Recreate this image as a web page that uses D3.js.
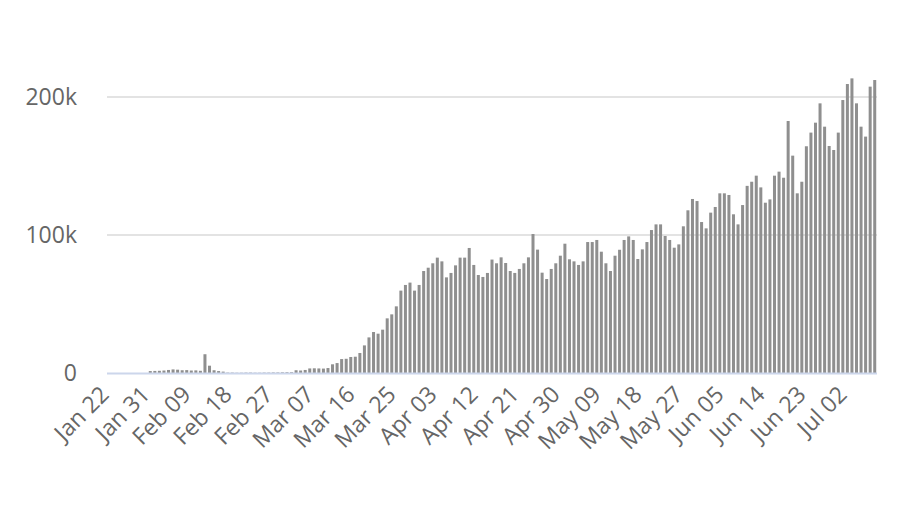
<!DOCTYPE html>
<html>
<head>
<meta charset="utf-8">
<script src="https://cdnjs.cloudflare.com/ajax/libs/d3/7.8.5/d3.min.js"></script>
<style>
  html, body { margin: 0; padding: 0; background: #ffffff; }
  svg { display: block; }
  text { font-family: "Open Sans", "DejaVu Sans", sans-serif; fill: #666666; }
</style>
</head>
<body>
<svg id="chart" width="900" height="505"></svg>
<script>
// Daily new cases (thousands), one array per month, Jan 22 -> Jul 08
const janValues = [0, 0, 0, 0, 0, 0, 0, 0, 0, 1.4];
const febValues = [1.5, 1.6, 1.8, 2.2, 2.6, 2.4, 2.0, 2.1, 1.8, 1.9, 1.6, 13.6, 5.3, 2.0, 1.4, 1.0,
                   0.3, 0.3, 0.2, 0.2, 0.3, 0.3, 0.2, 0.2, 0.3, 0.3, 0.4, 0.4, 0.5];
const marValues = [0.6, 0.6, 2.0, 1.8, 2.2, 3.3, 3.4, 3.3, 3.2, 3.6, 6.3, 7.2, 10.1, 10.3, 11.6, 11.8,
                   14.5, 20.0, 25.8, 29.7, 28.5, 31.4, 39.6, 42.5, 48.3, 59.7, 63.8, 65.5, 59.7, 63.8, 73.9];
const aprValues = [76.3, 79.5, 83.6, 80.9, 69.3, 72.5, 78.0, 83.6, 83.6, 90.6, 78.3, 71.0, 69.6, 72.5, 82.2,
                   79.5, 83.8, 79.7, 73.9, 72.5, 75.4, 79.5, 83.8, 100.7, 89.4, 72.7, 68.1, 75.4, 79.5, 85.0];
const mayValues = [93.7, 82.4, 80.9, 78.3, 80.9, 94.9, 94.9, 96.4, 87.9, 79.5, 73.9, 85.0, 89.3, 96.4, 99.0,
                   96.4, 82.6, 89.6, 94.9, 103.6, 107.7, 107.7, 99.3, 96.4, 90.8, 93.2, 106.3, 117.9, 126.1, 124.6, 109.4];
const junValues = [104.8, 116.2, 120.3, 130.2, 130.2, 129.0, 115.0, 107.7, 121.7, 135.6, 138.6, 143.0, 134.5, 123.4, 125.8,
                   143.0, 145.9, 141.5, 182.6, 157.5, 130.2, 138.6, 164.3, 174.2, 181.4, 195.4, 178.5, 164.5, 161.6, 174.2];
const julValues = [197.8, 209.4, 213.5, 195.4, 178.5, 171.3, 207.5, 212.3];

const tickLabels = ["Jan 22", "Jan 31", "Feb 09", "Feb 18", "Feb 27", "Mar 07", "Mar 16", "Mar 25", "Apr 03",
                    "Apr 12", "Apr 21", "Apr 30", "May 09", "May 18", "May 27", "Jun 05", "Jun 14", "Jun 23", "Jul 02"];
const yTicks = [0, 100, 200];

(function () {
  const values = [].concat(janValues, febValues, marValues, aprValues, mayValues, junValues, julValues);
  const fmt = d3.timeFormat("%b %d");
  const categories = d3.timeDay.range(new Date(2020, 0, 22), new Date(2020, 0, 22 + values.length)).map(fmt);
  const data = categories.map((c, i) => ({ cat: c, value: values[i] }));

  const svg = d3.select("#chart");
  const plotLeft = 107, plotRight = 877, plotTop = 28, plotBottom = 373;

  const x = d3.scaleBand().domain(categories).range([plotLeft, plotRight]).paddingInner(0.34).paddingOuter(0.17);
  const y = d3.scaleLinear().domain([0, 250]).range([plotBottom, plotTop]);

  // gridlines
  svg.append("g").selectAll("line").data(yTicks.filter(d => d > 0)).join("line")
    .attr("x1", plotLeft).attr("x2", plotRight)
    .attr("y1", d => y(d)).attr("y2", d => y(d))
    .attr("stroke", "#e3e3e3").attr("stroke-width", 2);

  // y labels
  svg.append("g").selectAll("text").data(yTicks).join("text")
    .attr("x", 77).attr("y", d => y(d)).attr("dy", "0.36em")
    .attr("text-anchor", "end").attr("font-size", 23)
    .text(d => d === 0 ? "0" : d + "k");

  // bars
  svg.append("g").selectAll("rect").data(data).join("rect")
    .attr("x", d => x(d.cat)).attr("width", x.bandwidth())
    .attr("y", d => y(d.value)).attr("height", d => y(0) - y(d.value))
    .attr("fill", "#8f8f8f");

  // x axis line
  svg.append("line").attr("x1", plotLeft).attr("x2", plotRight)
    .attr("y1", plotBottom + 0.5).attr("y2", plotBottom + 0.5)
    .attr("stroke", "#ccd6eb").attr("stroke-width", 2);

  // x labels
  svg.append("g").selectAll("text").data(tickLabels).join("text")
    .attr("transform", d => `translate(${x(d) + x.bandwidth() / 2 + 1},${plotBottom + 23}) rotate(-45)`)
    .attr("text-anchor", "end").attr("font-size", 23)
    .text(d => d);
})();
</script>
</body>
</html>
